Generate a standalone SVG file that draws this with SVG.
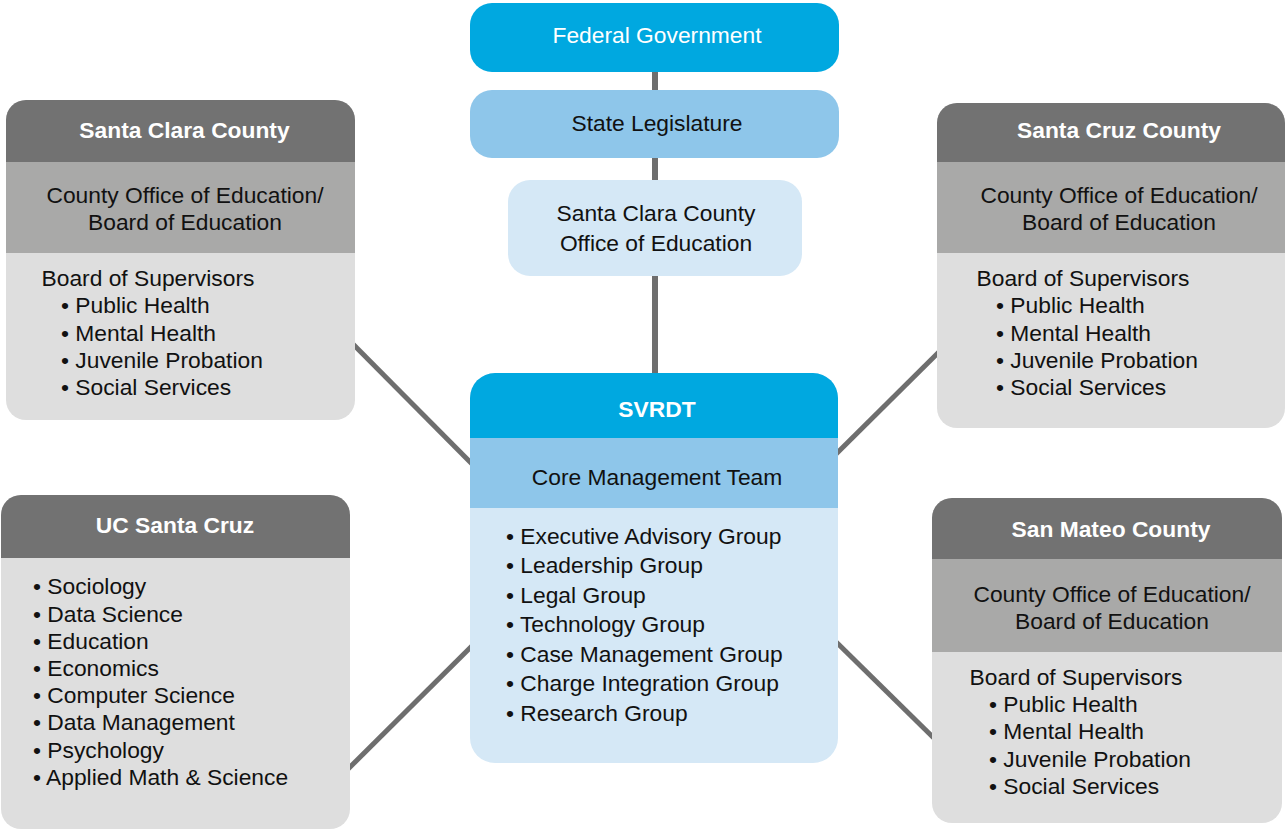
<svg xmlns="http://www.w3.org/2000/svg" width="1286" height="830" viewBox="0 0 1286 830">
<style>
text{font-family:"Liberation Sans",Arial,Helvetica,sans-serif;font-size:22.8px;fill:#111}
.c{text-anchor:middle}
.hw{fill:#fff;font-weight:bold}
.w{fill:#fff}
.dk{fill:#727272}
.md{fill:#a9a9a8}
.lt{fill:#dedede}
.b1{fill:#00a8e0}
.b2{fill:#8ec6ea}
.b3{fill:#d5e8f6}
.con{stroke:#6e6e6e;fill:none}
</style>
<rect width="1286" height="830" fill="#fff"/>
<g id="connectors">
<line class="con" x1="655" y1="60" x2="655" y2="390" stroke-width="6"/>
<line class="con" x1="340" y1="331" x2="480" y2="472" stroke-width="5"/>
<line class="con" x1="950" y1="341" x2="825" y2="465" stroke-width="5"/>
<line class="con" x1="335" y1="782" x2="485" y2="633" stroke-width="5"/>
<line class="con" x1="825" y1="631" x2="945" y2="749" stroke-width="5"/>
</g>
<g id="federal">
<rect class="b1" x="470" y="3" width="369" height="69" rx="22"/>
<text class="c w" x="657" y="43">Federal Government</text>
</g>
<g id="state">
<rect class="b2" x="470" y="90" width="369" height="68" rx="22"/>
<text class="c" x="657" y="131">State Legislature</text>
</g>
<g id="scc-office">
<rect class="b3" x="508" y="180" width="294" height="96" rx="22"/>
<text class="c" x="656" y="220.5">Santa Clara County</text>
<text class="c" x="656" y="250.5">Office of Education</text>
</g>
<g id="svrdt">
<rect class="b3" x="470" y="373" width="368" height="390" rx="25"/>
<path class="b1" d="M470 438V398A25 25 0 0 1 495 373H813A25 25 0 0 1 838 398V438Z"/>
<rect class="b2" x="470" y="438" width="368" height="70"/>
<text class="c hw" x="657" y="417">SVRDT</text>
<text class="c" x="657" y="484.5">Core Management Team</text>
<text x="506" y="543.5">• Executive Advisory Group</text>
<text x="506" y="572.5">• Leadership Group</text>
<text x="506" y="602.5">• Legal Group</text>
<text x="506" y="631.5">• Technology Group</text>
<text x="506" y="661.5">• Case Management Group</text>
<text x="506" y="690.5">• Charge Integration Group</text>
<text x="506" y="720.5">• Research Group</text>
</g>
<g id="santa-clara-county">
<rect class="lt" x="6" y="100" width="349" height="320" rx="20"/>
<path class="dk" d="M6 162V120A20 20 0 0 1 26 100H335A20 20 0 0 1 355 120V162Z"/>
<rect class="md" x="6" y="162" width="349" height="91"/>
<text class="c hw" x="184.5" y="138">Santa Clara County</text>
<text class="c" x="185" y="202.5">County Office of Education/</text>
<text class="c" x="185" y="229.5">Board of Education</text>
<text x="41.5" y="285.5">Board of Supervisors</text>
<text x="61" y="312.5">• Public Health</text>
<text x="61" y="340.5">• Mental Health</text>
<text x="61" y="367.5">• Juvenile Probation</text>
<text x="61" y="394.5">• Social Services</text>
</g>
<g id="santa-cruz-county">
<rect class="lt" x="937" y="103" width="348" height="325" rx="20"/>
<path class="dk" d="M937 162V123A20 20 0 0 1 957 103H1265A20 20 0 0 1 1285 123V162Z"/>
<rect class="md" x="937" y="162" width="348" height="91"/>
<text class="c hw" x="1119" y="138">Santa Cruz County</text>
<text class="c" x="1119" y="202.5">County Office of Education/</text>
<text class="c" x="1119" y="229.5">Board of Education</text>
<text x="976.5" y="285.5">Board of Supervisors</text>
<text x="996" y="312.5">• Public Health</text>
<text x="996" y="340.5">• Mental Health</text>
<text x="996" y="367.5">• Juvenile Probation</text>
<text x="996" y="394.5">• Social Services</text>
</g>
<g id="uc-santa-cruz">
<rect class="lt" x="1" y="495" width="349" height="334" rx="20"/>
<path class="dk" d="M1 558V515A20 20 0 0 1 21 495H330A20 20 0 0 1 350 515V558Z"/>
<text class="c hw" x="175" y="533">UC Santa Cruz</text>
<text x="33" y="593.5">• Sociology</text>
<text x="33" y="621.5">• Data Science</text>
<text x="33" y="648.5">• Education</text>
<text x="33" y="675.5">• Economics</text>
<text x="33" y="702.5">• Computer Science</text>
<text x="33" y="729.5">• Data Management</text>
<text x="33" y="757.5">• Psychology</text>
<text x="33" y="784.5">• Applied Math &amp; Science</text>
</g>
<g id="san-mateo-county">
<rect class="lt" x="932" y="498" width="350" height="325" rx="20"/>
<path class="dk" d="M932 559V518A20 20 0 0 1 952 498H1262A20 20 0 0 1 1282 518V559Z"/>
<rect class="md" x="932" y="559" width="350" height="93"/>
<text class="c hw" x="1111" y="537">San Mateo County</text>
<text class="c" x="1112" y="601.5">County Office of Education/</text>
<text class="c" x="1112" y="628.5">Board of Education</text>
<text x="969.5" y="684.5">Board of Supervisors</text>
<text x="989" y="711.5">• Public Health</text>
<text x="989" y="738.5">• Mental Health</text>
<text x="989" y="766.5">• Juvenile Probation</text>
<text x="989" y="793.5">• Social Services</text>
</g>
</svg>
